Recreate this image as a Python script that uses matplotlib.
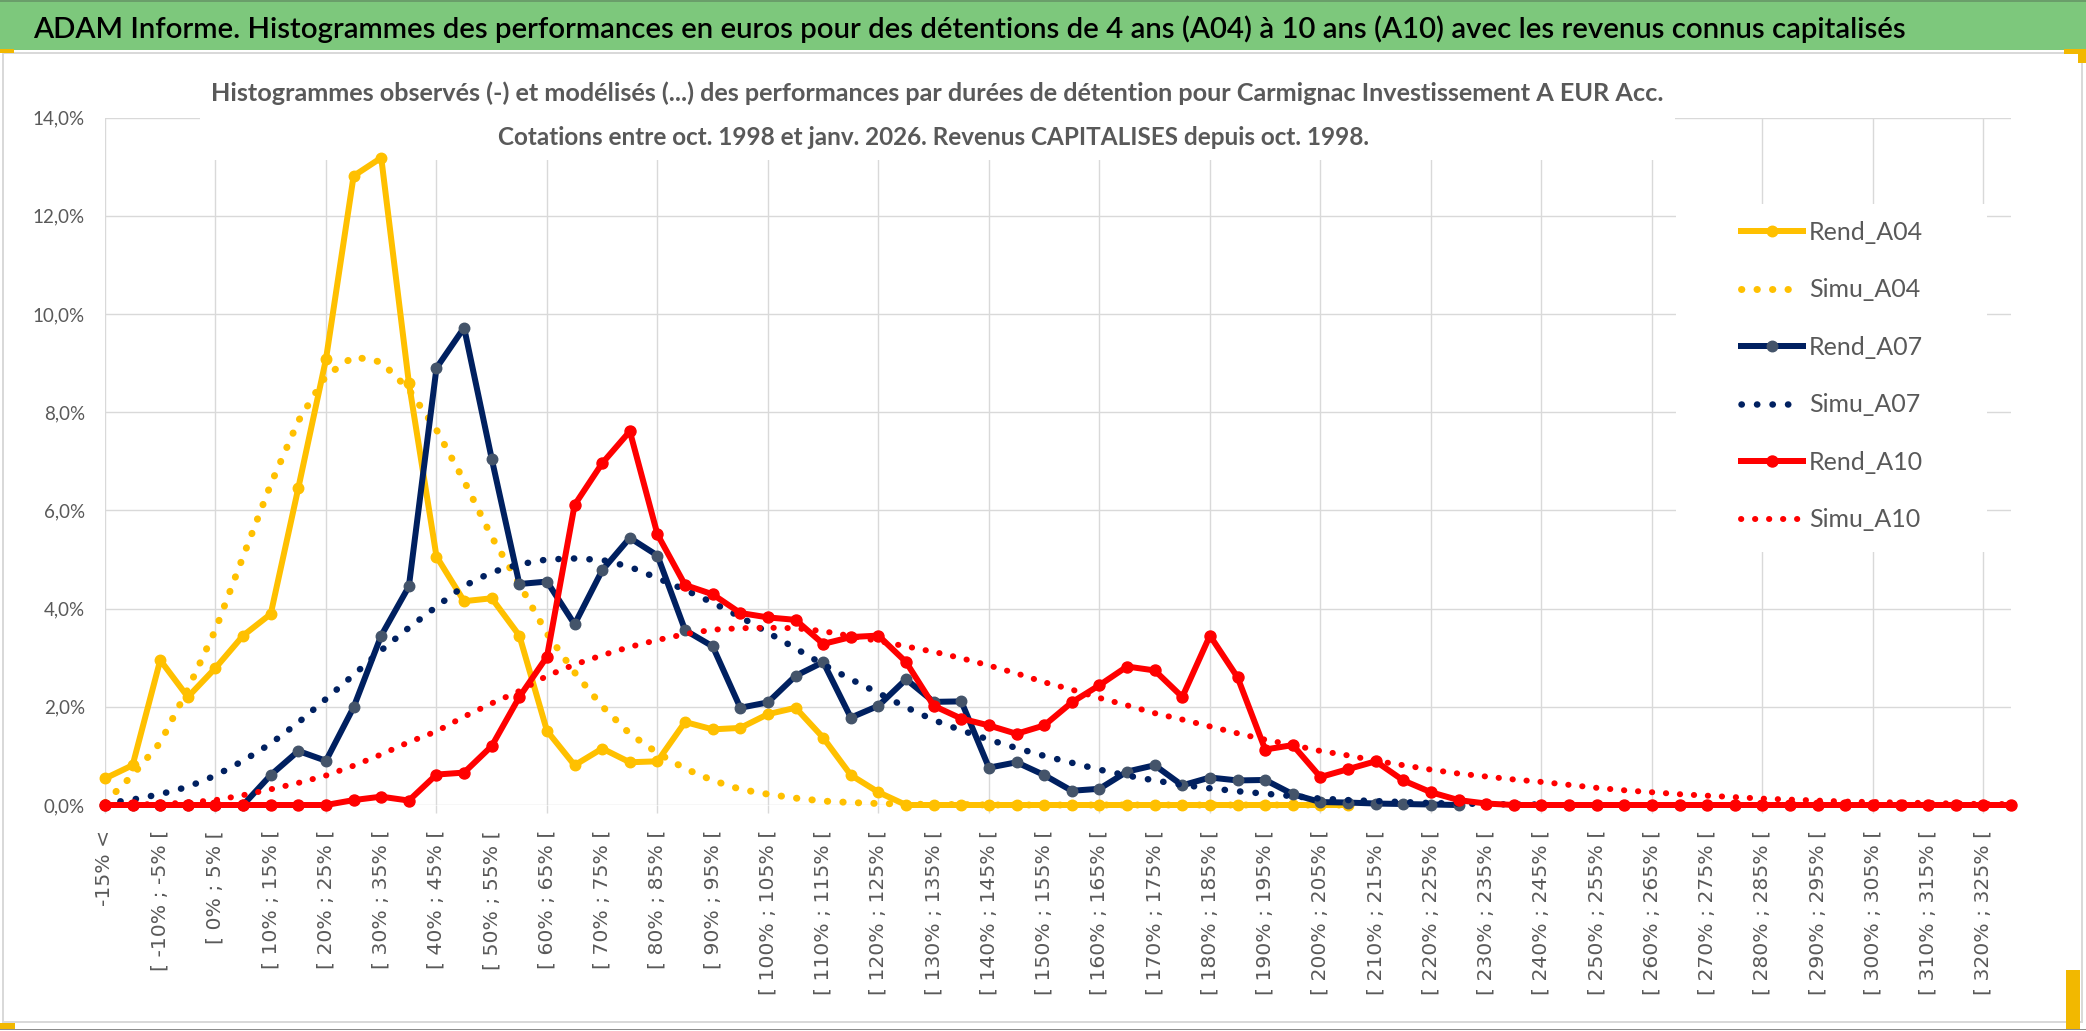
import numpy as np
import matplotlib
matplotlib.use("Agg")
import matplotlib.pyplot as plt
from matplotlib.patches import Rectangle
from matplotlib.ticker import FuncFormatter

# ---------------- data (values in %) ----------------
categories = ["-15% <"] + ["[ %d%% ; %d%% [" % (lo, lo + 5) for lo in range(-15, 330, 5)]

rend_a04 = [0.54, 0.81, 2.95, 2.20, 2.79, 3.45, 3.89, 6.46, 9.08, 12.81, 13.18, 8.60,
            5.06, 4.15, 4.21, 3.45, 1.51, 0.81, 1.15, 0.87, 0.89, 1.69, 1.54, 1.57,
            1.85, 1.98, 1.37, 0.61, 0.26, 0.0, 0.0, 0.0, 0.0, 0.0, 0.0, 0.0, 0.0, 0.0,
            0.0, 0.0, 0.0, 0.0, 0.0, 0.0, 0.0, 0.0]
simu_a04 = [0.05, 0.61, 1.27, 2.36, 3.57, 5.06, 6.53, 7.82, 8.74, 9.13, 9.02, 8.46,
            7.64, 6.60, 5.46, 4.50, 3.49, 2.70, 2.01, 1.45, 1.06, 0.74, 0.50, 0.32,
            0.22, 0.14, 0.08, 0.05, 0.03, 0.02, 0.01, 0.01, 0.0, 0.0, 0.0, 0.0, 0.0,
            0.0, 0.0, 0.0, 0.0, 0.0, 0.0, 0.0, 0.0, 0.0]
rend_a07 = [0.0, 0.0, 0.0, 0.0, 0.0, 0.0, 0.61, 1.10, 0.90, 1.99, 3.45, 4.45, 8.90,
            9.72, 7.05, 4.50, 4.55, 3.68, 4.78, 5.44, 5.08, 3.56, 3.23, 1.98, 2.09,
            2.63, 2.91, 1.78, 2.02, 2.56, 2.10, 2.11, 0.76, 0.87, 0.61, 0.29, 0.33,
            0.68, 0.81, 0.40, 0.56, 0.50, 0.51, 0.22, 0.06, 0.05, 0.03, 0.02, 0.01, 0.0]
simu_a07 = [0.03, 0.11, 0.22, 0.37, 0.60, 0.90, 1.25, 1.68, 2.16, 2.65, 3.15, 3.61,
            4.04, 4.46, 4.74, 4.90, 5.00, 5.02, 4.99, 4.85, 4.62, 4.38, 4.12, 3.83,
            3.51, 3.19, 2.86, 2.56, 2.28, 1.99, 1.73, 1.52, 1.33, 1.16, 1.00, 0.86,
            0.72, 0.60, 0.50, 0.41, 0.34, 0.28, 0.23, 0.18, 0.13, 0.10, 0.08, 0.06,
            0.04, 0.03, 0.02, 0.01, 0.01]
rend_a10 = [0.0, 0.0, 0.0, 0.0, 0.0, 0.0, 0.0, 0.0, 0.0, 0.10, 0.17, 0.09, 0.62, 0.66,
            1.20, 2.20, 3.02, 6.11, 6.96, 7.61, 5.51, 4.48, 4.29, 3.91, 3.82, 3.77,
            3.28, 3.42, 3.45, 2.91, 2.02, 1.76, 1.62, 1.45, 1.62, 2.09, 2.44, 2.82,
            2.74, 2.20, 3.45, 2.60, 1.13, 1.22, 0.57, 0.73, 0.89, 0.50, 0.26, 0.10,
            0.03, 0.0, 0.0, 0.0, 0.0, 0.0, 0.0, 0.0, 0.0, 0.0, 0.0, 0.0, 0.0, 0.0,
            0.0, 0.0, 0.0, 0.0, 0.0, 0.0]
simu_a10 = [0.0, 0.01, 0.02, 0.05, 0.10, 0.20, 0.32, 0.45, 0.60, 0.80, 1.03, 1.28,
            1.50, 1.80, 2.07, 2.32, 2.63, 2.86, 3.05, 3.22, 3.36, 3.48, 3.57, 3.60,
            3.61, 3.60, 3.54, 3.44, 3.34, 3.23, 3.12, 2.99, 2.84, 2.68, 2.50, 2.35,
            2.18, 2.03, 1.87, 1.74, 1.60, 1.46, 1.33, 1.22, 1.10, 1.01, 0.90, 0.81,
            0.72, 0.64, 0.58, 0.52, 0.47, 0.41, 0.35, 0.30, 0.26, 0.22, 0.19, 0.16,
            0.13, 0.11, 0.09, 0.07, 0.06, 0.05, 0.04, 0.03, 0.02, 0.02]

series_names = ["Rend_A04", "Simu_A04", "Rend_A07", "Simu_A07", "Rend_A10", "Simu_A10"]
y_ticks = [0, 2, 4, 6, 8, 10, 12, 14]

title = ("ADAM Informe. Histogrammes des performances en euros pour des détentions "
         "de 4 ans (A04) à 10 ans (A10) avec les revenus connus capitalisés")
subtitle1 = ("Histogrammes observés (-) et modélisés (...) des performances par durées "
             "de détention pour Carmignac Investissement A EUR Acc.")
subtitle2 = "Cotations entre oct. 1998 et janv. 2026. Revenus CAPITALISES depuis oct. 1998."

# ---------------- layout helpers ----------------
W, H, DPI = 2086, 1031, 100
PT = 72.0 / DPI  # points per pixel


def fx(px):
    return px / W


def fy(py):
    return 1.0 - py / H


def padded(v):
    return np.array(list(v) + [np.nan] * (len(categories) - len(v)), dtype=float)


fig = plt.figure(figsize=(W / DPI, H / DPI), dpi=DPI)
fig.patch.set_facecolor("white")

# green banner and frame
fig.patches.append(Rectangle((0, fy(50)), 1, 50 / H, transform=fig.transFigure,
                             facecolor="#7DC87C", edgecolor="none", zorder=0))
fig.patches.append(Rectangle((0, fy(1.5)), 1, 1.5 / H, transform=fig.transFigure,
                             facecolor="#6A9E6A", edgecolor="none", zorder=0))
fig.patches.append(Rectangle((fx(3), fy(1022)), fx(2082) - fx(3), (1022 - 53) / H,
                             transform=fig.transFigure, facecolor="none",
                             edgecolor="#D9D9D9", linewidth=2 * PT, zorder=0))
fig.patches.append(Rectangle((0, fy(1030)), 1, 1.5 / H, transform=fig.transFigure,
                             facecolor="#8C8C8C", edgecolor="none", zorder=0))
# selection handles (orange corners)
for (x0, y0, w, h) in [(0, 49, 14, 4), (2064, 49, 22, 5), (2078, 49, 8, 14),
                       (0, 1023, 15, 6), (2066, 970, 14, 59)]:
    fig.patches.append(Rectangle((fx(x0), fy(y0 + h)), w / W, h / H,
                                 transform=fig.transFigure, facecolor="#F2B800",
                                 edgecolor="none", zorder=0))

# ---------------- axes ----------------
ax_left, ax_right, ax_top, ax_bottom = 105, 2011, 117.5, 805
ax = fig.add_axes([fx(ax_left), fy(ax_bottom), (ax_right - ax_left) / W,
                   (ax_bottom - ax_top) / H])
x = np.arange(len(categories))
ax.set_xlim(0, len(categories) - 1)
ax.set_ylim(0, 14)
for s in ax.spines.values():
    s.set_visible(False)
ax.set_axisbelow(True)
ax.grid(True, which="major", color="#D9D9D9", linewidth=1.4 * PT)

ax.set_yticks(y_ticks)
ax.yaxis.set_major_formatter(FuncFormatter(lambda v, p: ("%.1f" % v).replace(".", ",") + "%"))
ax.tick_params(axis="y", length=0, pad=20 * PT, labelsize=13.5, labelcolor="#595959")
for t in ax.get_yticklabels():
    t.set_family(["Lato", "DejaVu Sans"])

major_idx = list(range(0, len(categories), 4))
minor_idx = list(range(2, len(categories), 4))
ax.set_xticks(major_idx)
ax.set_xticklabels([categories[i] for i in major_idx], rotation=90)
ax.set_xticks(minor_idx, minor=True)
ax.set_xticklabels([categories[i] for i in minor_idx], rotation=90, minor=True)
ax.tick_params(axis="x", which="both", length=8 * PT, width=1.4 * PT, pad=17 * PT,
               labelsize=14.7, labelcolor="#595959")
ax.tick_params(axis="x", which="major", color="#D9D9D9")
ax.tick_params(axis="x", which="minor", color=(1, 1, 1, 0))
for t in ax.get_xticklabels() + ax.get_xticklabels(minor=True):
    t.set_family("DejaVu Sans")

# white boxes (title area and legend area) hiding the grid
ax.add_patch(Rectangle((fx(200), fy(160)), (1675 - 200) / W, (160 - 60) / H,
                       transform=fig.transFigure, facecolor="white", edgecolor="none",
                       zorder=1, clip_on=False))
ax.add_patch(Rectangle((fx(1676), fy(552)), (1987 - 1676) / W, (552 - 204) / H,
                       transform=fig.transFigure, facecolor="white", edgecolor="none",
                       zorder=1, clip_on=False))

# ---------------- series ----------------
YEL, NAVY, NAVY_M, RED = "#FFC000", "#002060", "#44546A", "#FF0000"
solid_lw = 6 * PT
ms = 10.5 * PT


def dots(lw_px, spacing_px):
    return (0, (0.05, spacing_px / lw_px - 0.05))


handles = []
handles += ax.plot(x, padded(rend_a04), color=YEL, lw=solid_lw, marker="o", ms=ms,
                   mfc=YEL, mec=YEL, clip_on=False, zorder=3, label=series_names[0],
                   solid_joinstyle="round")
handles += ax.plot(x, padded(simu_a04), color=YEL, lw=7 * PT, ls=dots(7, 15.5),
                   dash_capstyle="round", clip_on=False, zorder=3, label=series_names[1])
handles += ax.plot(x, padded(rend_a07), color=NAVY, lw=solid_lw, marker="o", ms=ms,
                   mfc=NAVY_M, mec=NAVY_M, clip_on=False, zorder=3, label=series_names[2],
                   solid_joinstyle="round")
handles += ax.plot(x, padded(simu_a07), color=NAVY, lw=6.5 * PT, ls=dots(6.5, 15.5),
                   dash_capstyle="round", clip_on=False, zorder=3, label=series_names[3])
handles += ax.plot(x, padded(rend_a10), color=RED, lw=solid_lw, marker="o", ms=ms * 1.05,
                   mfc=RED, mec=RED, clip_on=False, zorder=3, label=series_names[4],
                   solid_joinstyle="round")
handles += ax.plot(x, padded(simu_a10), color=RED, lw=6 * PT, ls=dots(6, 14),
                   dash_capstyle="round", clip_on=False, zorder=3, label=series_names[5])

leg_fs = 18
leg = ax.legend(handles=handles, loc="center left",
                bbox_to_anchor=(fx(1741), fy(376)), bbox_transform=fig.transFigure,
                frameon=False, borderpad=0, borderaxespad=0,
                handlelength=62 * PT / leg_fs, handletextpad=6 * PT / leg_fs,
                labelspacing=1.38, labelcolor="#595959",
                prop={"family": ["Lato", "DejaVu Sans"], "size": leg_fs})
leg.set_zorder(4)

# ---------------- texts ----------------
renderer = fig.canvas.get_renderer()


def fit_width(t, target_px):
    w = t.get_window_extent(renderer).width
    t.set_fontsize(t.get_fontsize() * target_px / w)


t_title = fig.text(fx(33), fy(38), title, ha="left", va="baseline", fontsize=20,
                   color="black", family=["Lato", "DejaVu Sans"], weight="semibold")
fit_width(t_title, 1875)

t_s1 = fig.text(fx(937), fy(101), subtitle1, ha="center", va="baseline", fontsize=17,
                color="#595959", family=["Lato", "DejaVu Sans"], weight="bold")
fit_width(t_s1, 1462)
t_s2 = fig.text(fx(934), fy(145), subtitle2, ha="center", va="baseline", fontsize=17,
                color="#595959", family=["Lato", "DejaVu Sans"], weight="bold")
fit_width(t_s2, 870)

fig.savefig("out.png", dpi=DPI, facecolor="white")
